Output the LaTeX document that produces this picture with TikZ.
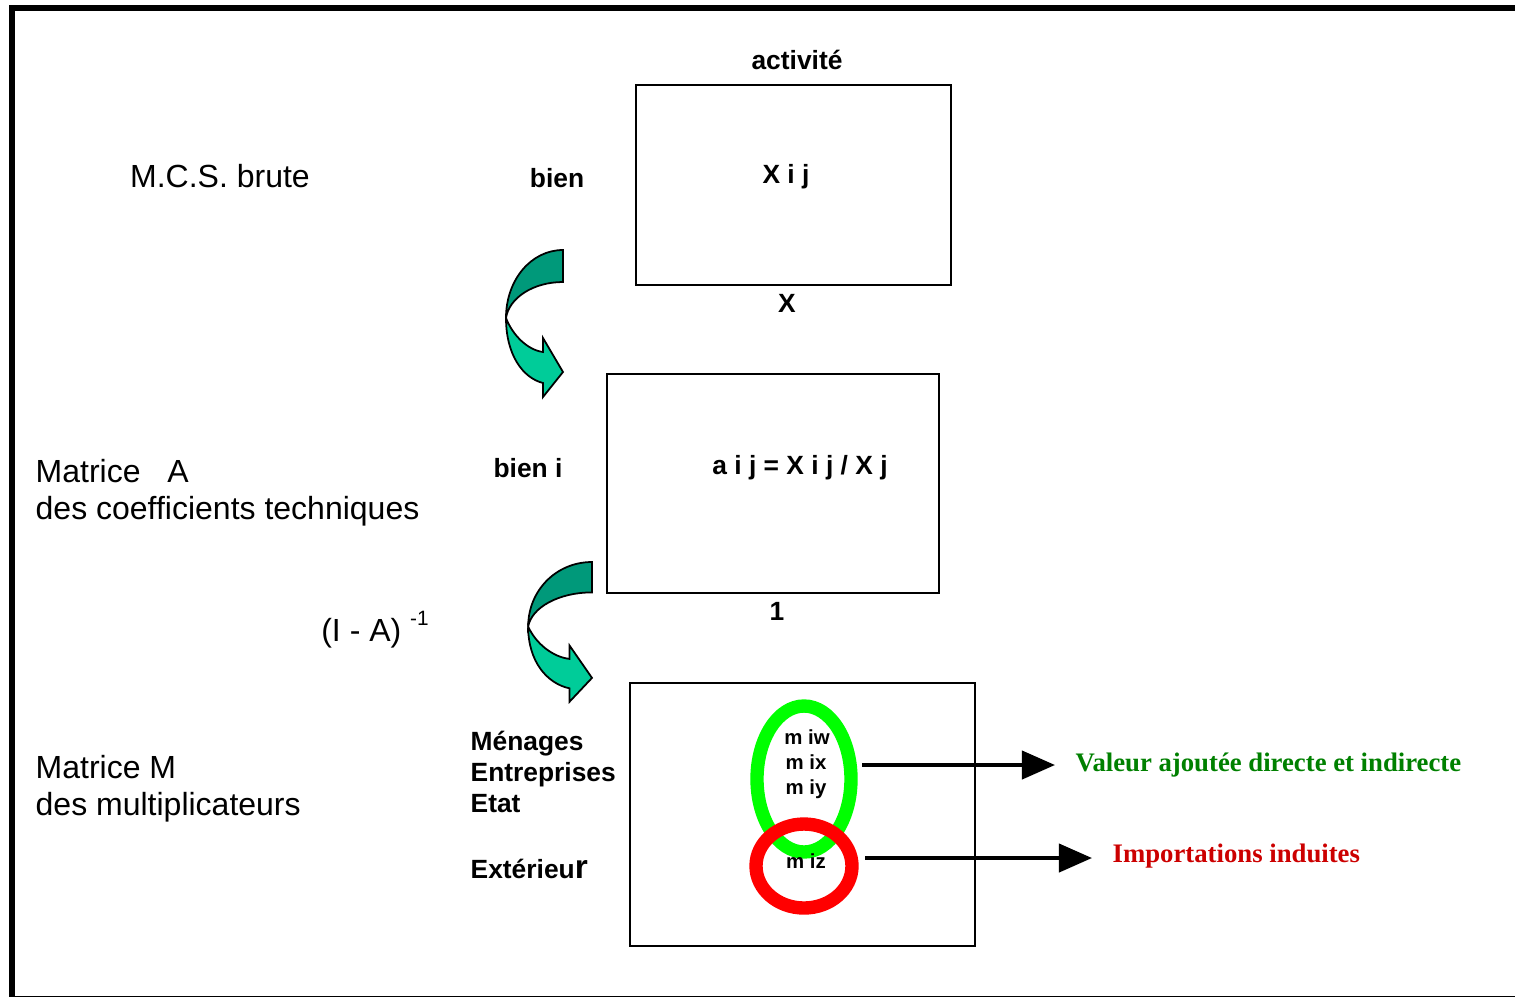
\documentclass[tikz,border=0pt]{standalone}
\usepackage{fontspec}
\setmainfont{Liberation Sans}
\newfontfamily\timesfont{Liberation Serif}
\usetikzlibrary{arrows.meta}
\definecolor{darkteal}{RGB}{0,153,122}
\definecolor{lightteal}{RGB}{0,204,153}
\definecolor{valgreen}{RGB}{0,128,0}
\definecolor{impred}{RGB}{204,0,0}
\definecolor{ringgreen}{RGB}{0,255,0}
\definecolor{ringred}{RGB}{255,0,0}

\tikzset{
    bendarrow/.pic={
        % back half, darker
        \filldraw[fill=darkteal, line width=0.5pt] (0,0) -- (0,32)
            .. controls (-30,32) and (-54,48) .. (-57,68)
            .. controls (-57,30) and (-32,0) .. (0,0) -- cycle;
        % front half with the head
        \filldraw[fill=lightteal, line width=0.5pt] (-57,68)
            .. controls (-57,105) and (-40,128) .. (-20,133)
            -- (-20,147) -- (0,122) -- (-20,88) -- (-20,102)
            .. controls (-35,100) and (-50,86) .. (-57,68) -- cycle;
    }
}

\begin{document}
\begin{tikzpicture}[x=0.01cm, y=-0.01cm,
    title/.style={font=\fontsize{9.1}{11}\selectfont, anchor=base west, inner sep=0},
    lbl/.style={font=\bfseries\fontsize{7.5}{9}\selectfont, anchor=base, inner sep=0},
    side/.style={font=\bfseries\fontsize{7.5}{9}\selectfont, anchor=base west, inner sep=0},
    coef/.style={font=\bfseries\fontsize{5.8}{7}\selectfont, anchor=base, inner sep=0},
    mat/.style={line width=0.6pt},
    ring/.style={line width=3.8pt},
    outarrow/.style={line width=1.15pt, -{Triangle[length=0.33cm, width=0.28cm]}},
    result/.style={font=\timesfont\bfseries\fontsize{7.6}{9}\selectfont, anchor=base west, inner sep=0}]
    \useasboundingbox (0,0) rectangle (1515,996);
    % frame
    \draw[line width=1.7pt] (1530,999) -- (12,999) -- (12,8) -- (1530,8);

    % raw SAM
    \draw[mat] (636,85) rectangle (951,285);
    \node[lbl] (activite) at (797,69) {activité};
    \node[lbl] (bien) at (557,187) {bien};
    \node[lbl] (xij) at (786,183) {X i j};
    \node[lbl] (xtot) at (787,312) {X};
    \node[title, anchor=base] (mcs) at (220,187) {M.C.S. brute};
    \pic at (563,250) {bendarrow};

    % technical coefficients
    \draw[mat] (607,374) rectangle (939,593);
    \node[lbl] (bieni) at (528,477) {bien i};
    \node[lbl] (aij) at (800,474) {a i j = X i j / X j};
    \node[lbl] (one) at (777,620) {1};
    \node[title] (matA) at (35,482) {Matrice\ \ \ A};
    \node[title] (coefA) at (35,519) {des coefficients techniques};
    \node[title, anchor=base] (inv) at (375,641)
        {(I - A) \raisebox{4.3pt}{\fontsize{5.9}{6}\selectfont -1}};
    \pic[xscale=1.12, yscale=0.95] at (592,562) {bendarrow};

    % multipliers
    \draw[mat] (630,683) rectangle (975,946);
    \node[title] (matM) at (35,778) {Matrice M};
    \node[title] (multM) at (35,815) {des multiplicateurs};
    \node[side] (menages) at (470,750) {Ménages};
    \node[side] (entrep) at (470,781) {Entreprises};
    \node[side] (etat) at (470,812) {Etat};
    \node[side] (exter) at (470,878) {Extérieu{\fontsize{9.5}{10}\selectfont r}};
    \draw[ring, ringgreen] (804,779) ellipse [x radius=47, y radius=73];
    \draw[ring, ringred] (804,866) ellipse [x radius=48, y radius=42];
    \node[coef] (miw) at (807,744) {m iw};
    \node[coef] (mix) at (806,769) {m ix};
    \node[coef] (miy) at (806,794) {m iy};
    \node[coef] (miz) at (806,868) {m iz};

    % results
    \node[result, valgreen] (valeur) at (1075,771) {Valeur ajoutée directe et indirecte};
    \node[result, impred] (import) at (1112,862) {Importations induites};
    \coordinate (va-from) at (862,765);
    \coordinate (va-to) at (1055,765);
    \coordinate (im-from) at (865,858);
    \coordinate (im-to) at (1092,858);
    \draw[outarrow] (va-from) -- (va-to);
    \draw[outarrow] (im-from) -- (im-to);
\end{tikzpicture}
\end{document}
